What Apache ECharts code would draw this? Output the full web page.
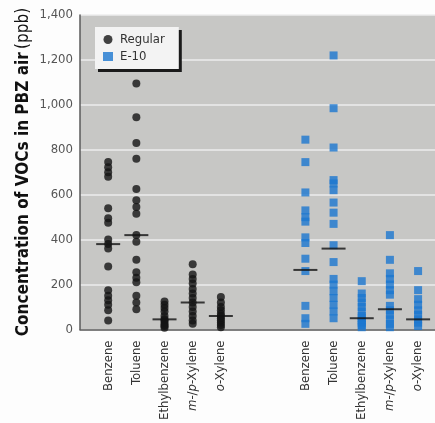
<!DOCTYPE html>
<html>
<head>
<meta charset="utf-8">
<style>
  html, body { margin: 0; padding: 0; background: #ffffff; }
  #chart { width: 435px; height: 423px; }
</style>
<script src="https://cdn.jsdelivr.net/npm/echarts@6/dist/echarts.min.js"></script>
</head>
<body>
<div id="chart"></div>
<script>
// Compounds measured for each fuel type (italic prefixes marked for rich text)
var compounds = ['Benzene', 'Toluene', 'Ethylbenzene', '{i|m}-/{i|p}-Xylene', '{i|o}-Xylene'];

// Individual personal-breathing-zone measurements (ppb), regular gasoline
var regularBenzene = [745, 722, 700, 680, 540, 495, 475, 400, 380, 360, 280, 175, 150, 130, 110, 85, 40];
var regularToluene = [1095, 945, 830, 760, 625, 575, 545, 515, 420, 390, 310, 255, 230, 210, 150, 120, 90];
var regularEthylbenzene = [125, 110, 95, 80, 60, 45, 40, 30, 20, 15, 8];
var regularMPXylene = [290, 245, 225, 205, 180, 160, 140, 120, 100, 80, 60, 40, 25];
var regularOXylene = [145, 120, 100, 85, 70, 60, 50, 40, 30, 20, 10];

// Individual measurements (ppb), E-10 gasoline
var e10Benzene = [845, 745, 610, 530, 500, 480, 410, 385, 315, 260, 105, 50, 25];
var e10Toluene = [1220, 985, 810, 665, 650, 620, 565, 520, 470, 375, 300, 225, 200, 170, 140, 110, 80, 50];
var e10Ethylbenzene = [215, 160, 140, 120, 100, 80, 60, 50, 40, 30, 20, 10];
var e10MPXylene = [420, 310, 250, 225, 200, 175, 155, 105, 85, 65, 45, 25, 10];
var e10OXylene = [260, 175, 135, 110, 85, 65, 45, 30, 15];

// Median markers (ppb)
var regularMedians = [380, 420, 45, 120, 60];
var e10Medians = [265, 360, 50, 90, 45];

// Y-axis ticks
var yTicks = [0, 200, 400, 600, 800, 1000, 1200, 1400];

// Slot positions on the x axis: regular group, then E-10 group after a gap
var regularSlots = [0, 1, 2, 3, 4];
var e10Slots = [7, 8, 9, 10, 11];

var regularSets = [regularBenzene, regularToluene, regularEthylbenzene, regularMPXylene, regularOXylene];
var e10Sets = [e10Benzene, e10Toluene, e10Ethylbenzene, e10MPXylene, e10OXylene];

function toPoints(sets, slots) {
  var pts = [];
  sets.forEach(function (vals, i) {
    vals.forEach(function (v) { pts.push([slots[i], v]); });
  });
  return pts;
}
function medianPoints(meds, slots) {
  return meds.map(function (m, i) { return [slots[i], m]; });
}

var slotLabels = {};
regularSlots.forEach(function (s, i) { slotLabels[s] = compounds[i]; });
e10Slots.forEach(function (s, i) { slotLabels[s] = compounds[i]; });

var BLUE = '#1c77cf';
var FONT = '"Liberation Sans Narrow", "DejaVu Sans Condensed", "Liberation Sans", sans-serif';

var chart = echarts.init(document.getElementById('chart'), null, { renderer: 'canvas' });

chart.setOption({
  animation: false,
  backgroundColor: '#fdfdfd',
  grid: { left: 80, top: 15, right: 0, bottom: 93, backgroundColor: '#c7c7c5', show: true, borderWidth: 0 },
  xAxis: {
    type: 'value',
    min: -1,
    max: 11.6,
    interval: 1,
    axisLine: { show: true, onZero: false, lineStyle: { color: '#5a5a5a', width: 1.5 } },
    axisTick: { show: false },
    splitLine: { show: false },
    axisLabel: {
      rotate: 90,
      margin: 11,
      fontFamily: FONT,
      fontSize: 13,
      color: '#333',
      showMinLabel: true,
      showMaxLabel: true,
      formatter: function (v) {
        return slotLabels.hasOwnProperty(v) ? slotLabels[v] : '';
      },
      rich: {
        i: { fontFamily: FONT, fontSize: 13, fontStyle: 'italic', color: '#333' }
      }
    }
  },
  yAxis: {
    type: 'value',
    min: yTicks[0],
    max: yTicks[yTicks.length - 1],
    interval: yTicks[1] - yTicks[0],
    axisLine: { show: true, onZero: false, lineStyle: { color: '#5a5a5a', width: 1.5 } },
    axisTick: { show: false },
    splitLine: { show: true, lineStyle: { color: '#ececec', width: 1.5 } },
    axisLabel: {
      margin: 7,
      fontFamily: FONT,
      fontSize: 13,
      color: '#555',
      formatter: function (v) { return v.toLocaleString('en-US'); }
    }
  },
  legend: {
    orient: 'vertical',
    left: 95,
    top: 27,
    padding: [6, 14, 6, 8],
    itemGap: 4,
    itemWidth: 10,
    itemHeight: 9,
    backgroundColor: '#f3f3f3',
    shadowColor: '#1a1a1a',
    shadowBlur: 0,
    shadowOffsetX: 3,
    shadowOffsetY: 3,
    textStyle: { fontFamily: FONT, fontSize: 13, color: '#333', padding: [0, 0, 0, 2] },
    data: [
      { name: 'Regular', icon: 'circle' },
      { name: 'E-10', icon: 'rect' }
    ]
  },
  graphic: [{
    type: 'text',
    x: 24,
    y: 172,
    rotation: Math.PI / 2,
    style: {
      text: '{b|Concentration of VOCs in PBZ air} {n|(ppb)}',
      align: 'center',
      verticalAlign: 'middle',
      rich: {
        b: { fontFamily: FONT, fontWeight: 'bold', fontSize: 17, fill: '#111' },
        n: { fontFamily: FONT, fontWeight: 'normal', fontSize: 17, fill: '#111' }
      }
    }
  }],
  series: [
    {
      name: 'Regular',
      type: 'scatter',
      symbol: 'circle',
      symbolSize: 8,
      itemStyle: { color: '#141414' },
      data: toPoints(regularSets, regularSlots),
      z: 2
    },
    {
      name: 'E-10',
      type: 'scatter',
      symbol: 'rect',
      symbolSize: 8,
      itemStyle: { color: BLUE },
      data: toPoints(e10Sets, e10Slots),
      z: 2
    },
    {
      name: 'Regular median',
      type: 'scatter',
      symbol: 'rect',
      symbolSize: [24, 2],
      itemStyle: { color: '#111' },
      data: medianPoints(regularMedians, regularSlots),
      z: 3
    },
    {
      name: 'E-10 median',
      type: 'scatter',
      symbol: 'rect',
      symbolSize: [24, 2],
      itemStyle: { color: '#111' },
      data: medianPoints(e10Medians, e10Slots),
      z: 3
    }
  ]
});
</script>
</body>
</html>
